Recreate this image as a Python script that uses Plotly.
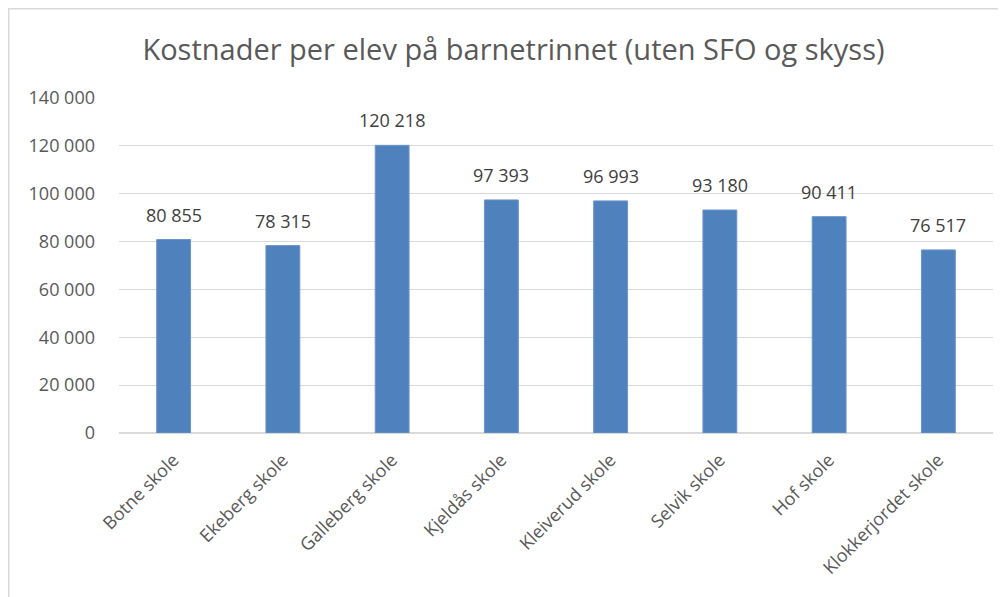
import plotly.graph_objects as go

schools = ["Botne skole", "Ekeberg skole", "Galleberg skole", "Kjeldås skole",
           "Kleiverud skole", "Selvik skole", "Hof skole", "Klokkerjordet skole"]
costs = [80855, 78315, 120218, 97393, 96993, 93180, 90411, 76517]
y_ticks = [0, 20000, 40000, 60000, 80000, 100000, 120000, 140000]

# page is offset by the default 8px body margin
OFF = 8
W, H = 1006, 597
L, R, T, B = 119 - OFF, 21, 98 - OFF, 172
pw, ph = W - L - R, H - T - B

def px(x):
    return (x - L) / pw

def py(y):
    return (H - B - y) / ph

font_family = "Open Sans, Liberation Sans, sans-serif"

fig = go.Figure(go.Bar(
    x=schools, y=costs,
    marker=dict(color="#4F81BD", line=dict(color="#6A94C8", width=1)),
    hovertemplate="%{x}: %{y:,d}<extra></extra>",
))

annotations = [
    dict(x=s, y=c, xref="x", yref="y", text=f"{c:,}".replace(",", " "),
         showarrow=False, yanchor="bottom", yshift=11,
         font=dict(size=18, color="#404040", family=font_family))
    for s, c in zip(schools, costs)
]

fig.update_layout(
    width=W, height=H, autosize=False,
    margin=dict(l=L, r=R, t=T, b=B),
    paper_bgcolor="white", plot_bgcolor="white",
    separators=", ",
    bargap=0.69,
    showlegend=False,
    annotations=annotations,
    title=dict(text="Kostnader per elev på barnetrinnet (uten SFO og skyss)",
               x=(513.5 - OFF) / W, xanchor="center", y=1 - (50 - OFF) / H, yanchor="middle",
               font=dict(size=29, color="#595959", family=font_family)),
    font=dict(family=font_family, color="#595959"),
    shapes=[
        dict(type="line", xref="paper", yref="paper",
             x0=px(0.75), x1=px(0.75), y0=py(0), y1=py(H + 5),
             line=dict(color="#D9D9D9", width=1.5)),
        dict(type="line", xref="paper", yref="paper",
             x0=px(0), x1=px(W + 5), y0=py(0.75), y1=py(0.75),
             line=dict(color="#D9D9D9", width=1.5)),
    ],
)

fig.update_yaxes(range=[0, 140000], tickvals=y_ticks, tickformat=",d",
                 showgrid=True, gridcolor="#D9D9D9", gridwidth=1,
                 zeroline=True, zerolinecolor="#D9D9D9", zerolinewidth=1.5,
                 showline=False, ticks="", ticklen=0, ticklabelstandoff=23,
                 tickfont=dict(size=18, color="#595959"))
fig.update_xaxes(tickangle=-45, showline=False, ticks="", ticklabelstandoff=12,
                 tickfont=dict(size=18, color="#595959"))

fig.write_html("out.html")
